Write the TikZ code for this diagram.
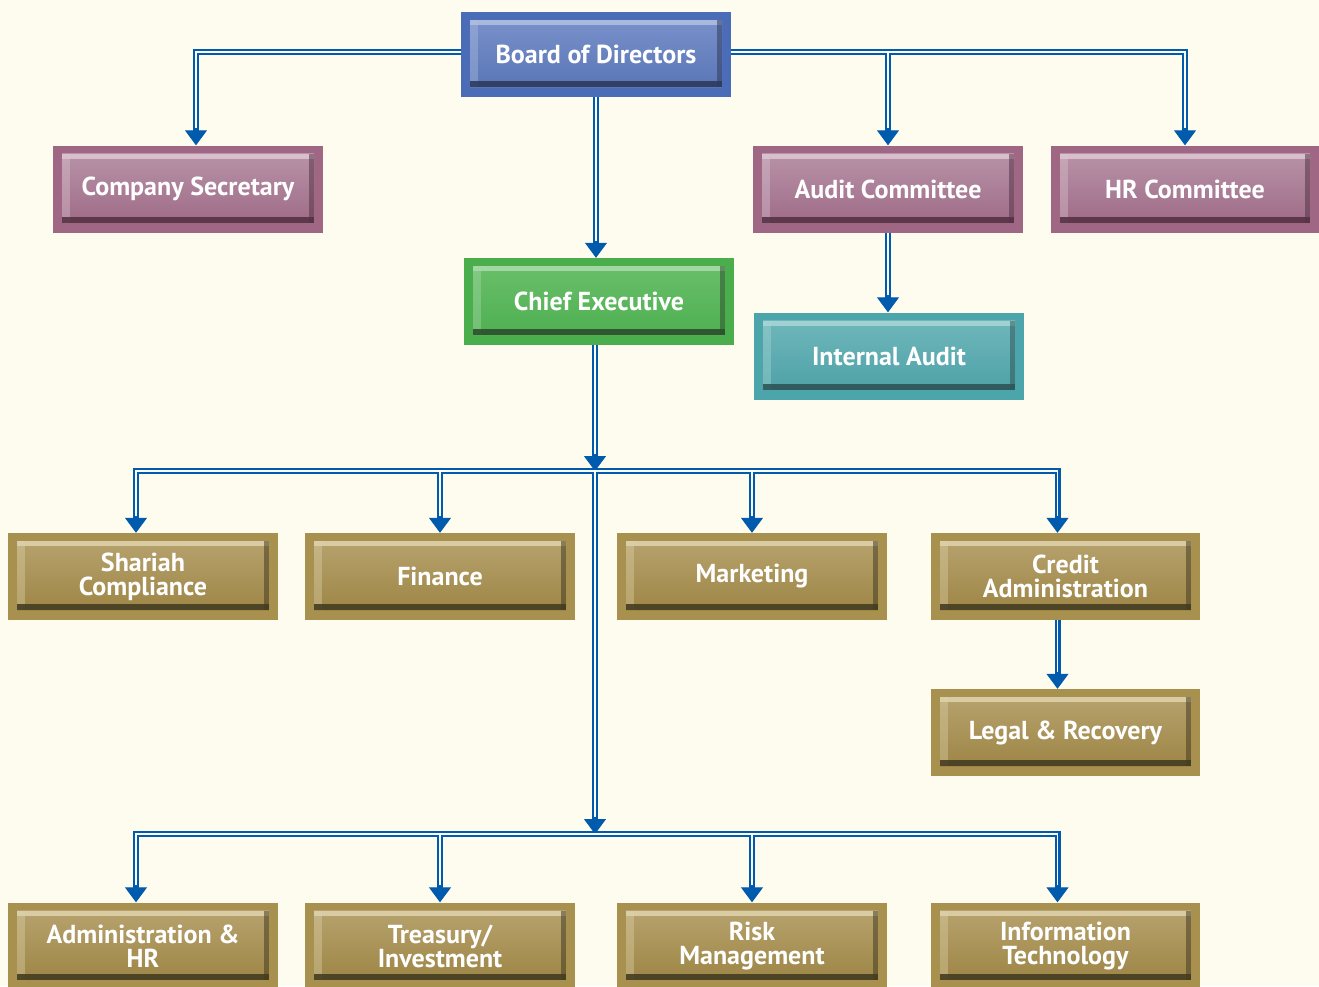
\documentclass[tikz,border=0pt]{standalone}
\usepackage{fontspec}
\setmainfont{PT Sans}
\usetikzlibrary{arrows.meta}
\definecolor{bg}{HTML}{FEFCEF}
\definecolor{lineblue}{HTML}{005BAC}
\newcommand\connpaths[1]{%
  \draw[#1] (bL) -| ([xshift=8pt]cs.north);
  \draw[#1] (bR) -| (hrc.north);
  \draw[#1] (bR -| ac.north) -- (ac.north);
  \draw[#1] (bod.south) -- (bod.south |- ce.north);
  \draw[#1] (ac.south) -- (ac.south |- ia.north);
  \draw[#1] (bus1 |- ce.south) -- (bus1);
  \draw[#1] (bus1) -- (bus2);
  \draw[#1] (bus1) -| ([xshift=-7pt]shar.north);
  \draw[#1] (bus1 -| fin.north) -- (fin.north);
  \draw[#1] (bus1 -| mkt.north) -- (mkt.north);
  \draw[#1] (bus1) -| ([xshift=-8pt]cred.north);
  \draw[#1] (bus2) -| ([xshift=-7pt]adm.north);
  \draw[#1] (bus2 -| trs.north) -- (trs.north);
  \draw[#1] (bus2 -| risk.north) -- (risk.north);
  \draw[#1] (bus2) -| ([xshift=-8pt]it.north);
  \draw[#1] ([xshift=-8pt]cred.south) -- ([xshift=-8pt]legal.north);
}
\begin{document}
\begin{tikzpicture}[x=1pt,y=-1pt,
  orgbox/.style n args={5}{draw=none, fill=#1, minimum width=270pt, minimum height=87pt,
    inner sep=0pt, text=white, font=\bfseries\fontsize{26}{24}\selectfont, align=center,
    path picture={
      \fill[top color=#2, bottom color=#3]
        ([shift={(9,8)}]path picture bounding box.north west) rectangle
        ([shift={(-9,-10)}]path picture bounding box.south east);
      \fill[#4, opacity=0.4]
        ([shift={(9,8)}]path picture bounding box.north west) rectangle
        ([shift={(17,-10)}]path picture bounding box.south west);
      \fill[#4, opacity=0.9]
        ([shift={(9,8)}]path picture bounding box.north west) rectangle
        ([shift={(-9,13)}]path picture bounding box.north east);
      \fill[#5, opacity=0.9]
        ([shift={(9,-16)}]path picture bounding box.south west) rectangle
        ([shift={(-9,-10)}]path picture bounding box.south east);
      \fill[#5, opacity=0.55]
        ([shift={(-14,8)}]path picture bounding box.north east) rectangle
        ([shift={(-9,-10)}]path picture bounding box.south east);
    }},
  blueb/.style={orgbox={blueO}{blueT}{blueB}{blueH}{blueD}},
  mauveb/.style={orgbox={mauO}{mauT}{mauB}{mauH}{mauD}},
  greenb/.style={orgbox={grnO}{grnT}{grnB}{grnH}{grnD}},
  tealb/.style={orgbox={tlO}{tlT}{tlB}{tlH}{tlD}},
  goldb/.style={orgbox={gdO}{gdT}{gdB}{gdH}{gdD}},
  connout/.style={draw=lineblue, line width=6pt, shorten >=13pt},
  connarrow/.style={draw=lineblue, line width=1pt, -{Triangle[width=22pt,length=15pt]}},
  connin/.style={draw=white, line width=1.8pt, shorten >=17pt},
]
\definecolor{blueO}{HTML}{4B6CB7}\definecolor{blueT}{HTML}{7C94CD}\definecolor{blueB}{HTML}{5672B3}\definecolor{blueH}{HTML}{AEBEDF}\definecolor{blueD}{HTML}{2E3B5E}
\definecolor{mauO}{HTML}{9F6784}\definecolor{mauT}{HTML}{BA97AB}\definecolor{mauB}{HTML}{9C6683}\definecolor{mauH}{HTML}{DCC4D0}\definecolor{mauD}{HTML}{553344}
\definecolor{grnO}{HTML}{49AE4B}\definecolor{grnT}{HTML}{6CC06C}\definecolor{grnB}{HTML}{4BAE4E}\definecolor{grnH}{HTML}{A9D9A9}\definecolor{grnD}{HTML}{2D4F2D}
\definecolor{tlO}{HTML}{4BA5AB}\definecolor{tlT}{HTML}{72B9BD}\definecolor{tlB}{HTML}{4A9FA5}\definecolor{tlH}{HTML}{A8D5D7}\definecolor{tlD}{HTML}{2E5557}
\definecolor{gdO}{HTML}{A8914F}\definecolor{gdT}{HTML}{B9A572}\definecolor{gdB}{HTML}{9A8240}\definecolor{gdH}{HTML}{DDD1AA}\definecolor{gdD}{HTML}{453C22}
\useasboundingbox (0,0) rectangle (1319,986);
\fill[bg] (0,0) rectangle (1319,986);

\node[blueb, minimum height=85pt] (bod) at (596,54.5) {Board of Directors};
\node[mauveb] (cs) at (188,189) {Company Secretary};
\node[mauveb] (ac) at (888,189) {Audit Committee};
\node[mauveb, minimum width=268pt] (hrc) at (1185,189) {HR Committee};
\node[greenb] (ce) at (599,301.5) {Chief Executive};
\node[tealb] (ia) at (889,356) {Internal Audit};
\node[goldb] (shar) at (143,576.5) {Shariah\\Compliance};
\node[goldb] (fin) at (440,576.5) {Finance};
\node[goldb] (mkt) at (752,576.5) {Marketing};
\node[goldb, minimum width=269pt] (cred) at (1065.5,576.5) {Credit\\Administration};
\node[goldb, minimum width=269pt] (legal) at (1065.5,732.5) {Legal \& Recovery};
\node[goldb] (adm) at (143,946) {Administration \&\\HR};
\node[goldb] (trs) at (440,946) {Treasury/\\Investment};
\node[goldb] (risk) at (752,946) {Risk\\Management};
\node[goldb, minimum width=269pt] (it) at (1065.5,946) {Information\\Technology};

\coordinate (bL) at ([yshift=2.5pt]bod.west);
\coordinate (bR) at ([yshift=2.5pt]bod.east);
\coordinate (bus1) at (595,471);
\coordinate (bus2) at (595,834);

\connpaths{connout}
\connpaths{connarrow}
\connpaths{connin}
\end{tikzpicture}
\end{document}
